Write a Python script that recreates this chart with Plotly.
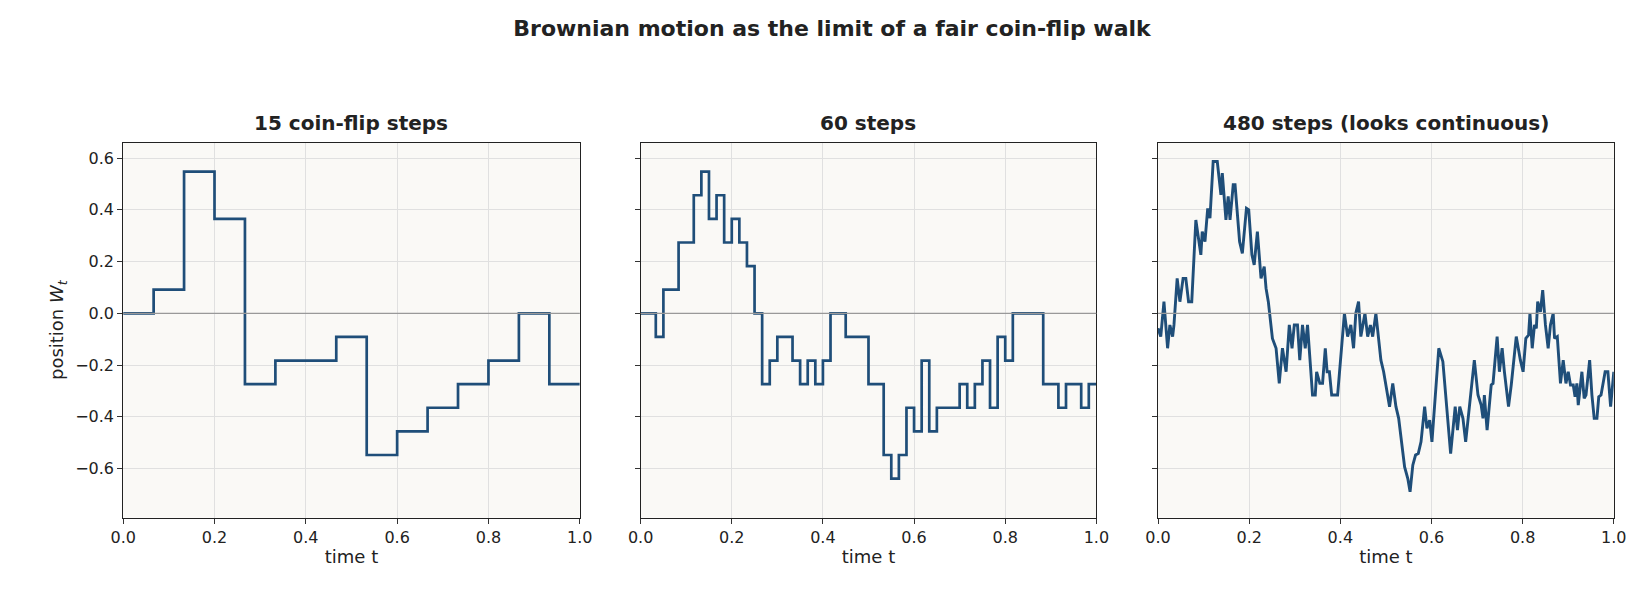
import numpy as np
import plotly.graph_objects as go
from plotly.subplots import make_subplots

# coin-flip walk in units of 2/sqrt(480)
unit = 2 / np.sqrt(480)
w15 = [0, 1, 6, 4, -3, -2, -2, -1, -6, -5, -4, -3, -2, 0, -3, -3]
w60 = [0, 0, -1, 1, 1, 3, 3, 5, 6, 4, 5, 3, 4, 3, 2, 0, -3, -2, -1, -1,
       -2, -3, -2, -3, -2, 0, 0, -1, -1, -1, -3, -3, -6, -7, -6, -4, -5, -2, -5, -4,
       -4, -4, -3, -4, -3, -2, -4, -1, -2, 0, 0, 0, 0, -3, -3, -4, -3, -3, -4, -3, -3]

# 480-step path, turning points
t480 = [0, .006, .013, .021, .026, .032, .035, .042, .048, .055, .061, .067, .074, .083, .094,
        .097, .103, .109, .114, .121, .130, .138, .141, .149, .154, .158, .165, .169, .179, .185,
        .194, .199, .206, .211, .218, .226, .233, .237, .242, .251, .259, .266, .273, .281, .288,
        .294, .299, .306, .311, .317, .323, .328, .339, .345, .348, .355, .361, .367, .371, .376,
        .381, .394, .409, .416, .423, .429, .434, .440, .445, .454, .460, .466, .471, .478, .489,
        .495, .508, .515, .522, .528, .541, .548, .553, .559, .565, .571, .577, .585, .590, .596,
        .601, .616, .625, .642, .652, .657, .662, .669, .675, .680, .694, .702, .709, .713, .716,
        .722, .731, .735, .744, .749, .755, .760, .769, .775, .786, .795, .801, .807, .813, .816,
        .821, .826, .830, .833, .839, .844, .850, .856, .861, .867, .870, .876, .883, .889, .895,
        .900, .905, .911, .915, .919, .922, .930, .935, .939, .947, .952, .957, .963, .967, .972,
        .976, .981, .987, .993, 1.0]
w480 = [-.058, -.090, .045, -.135, -.045, -.090, -.045, .135, .045, .135, .135, .045, .045, .361, .226,
        .316, .277, .406, .368, .587, .587, .458, .542, .361, .452, .361, .497, .497, .277, .232,
        .406, .400, .226, .187, .316, .135, .181, .097, .045, -.097, -.135, -.271, -.135, -.226, -.045,
        -.135, -.045, -.045, -.181, -.045, -.135, -.045, -.316, -.316, -.226, -.271, -.271, -.135, -.226, -.226,
        -.316, -.316, 0, -.090, -.045, -.135, 0, .045, -.090, 0, -.090, -.045, -.090, 0, -.181,
        -.226, -.361, -.271, -.361, -.406, -.594, -.639, -.690, -.587, -.548, -.542, -.497, -.361, -.445, -.413,
        -.497, -.135, -.187, -.542, -.361, -.452, -.361, -.406, -.497, -.406, -.181, -.316, -.355, -.406, -.316,
        -.452, -.277, -.271, -.090, -.226, -.135, -.226, -.361, -.277, -.090, -.181, -.226, -.097, -.084, 0,
        -.135, -.045, -.058, .045, .006, .090, -.045, -.135, -.045, 0, -.097, -.090, -.271, -.181, -.271,
        -.226, -.277, -.277, -.323, -.271, -.355, -.226, -.329, -.316, -.181, -.316, -.406, -.406, -.323, -.316,
        -.277, -.226, -.226, -.361, -.226]

titles = ["15 coin-flip steps", "60 steps", "480 steps (looks continuous)"]
blue = "#1f4e79"

fig = make_subplots(rows=1, cols=3, shared_yaxes=True, subplot_titles=titles)

t15 = np.arange(len(w15)) / 15
t60 = np.arange(len(w60)) / 60
fig.add_trace(go.Scatter(x=t15, y=np.array(w15) * unit, mode="lines", line_shape="hv",
                         line=dict(color=blue, width=2.7)), row=1, col=1)
fig.add_trace(go.Scatter(x=t60, y=np.array(w60) * unit, mode="lines", line_shape="hv",
                         line=dict(color=blue, width=2.7)), row=1, col=2)
fig.add_trace(go.Scatter(x=t480, y=w480, mode="lines",
                         line=dict(color=blue, width=2.9)), row=1, col=3)

domains = [[0.063, 0.3445], [0.382, 0.663], [0.701, 0.982]]
ydom = [0.152, 0.776]
for i in range(3):
    fig.add_hline(y=0, line=dict(color="#999999", width=1.3), row=1, col=i + 1)
    fig.update_xaxes(domain=domains[i], row=1, col=i + 1)
    a = fig.layout.annotations[i]
    a.x = (domains[i][0] + domains[i][1]) / 2
    a.y = ydom[1] + 0.01
    a.yanchor = "bottom"
    a.text = "<b>" + a.text + "</b>"

fig.update_xaxes(range=[0, 1], dtick=0.2, tickformat=".1f", showgrid=True, gridcolor="#e0e0e0",
                 zeroline=False, showline=True, linecolor="#222", mirror=True, ticks="outside",
                 ticklen=5, tickcolor="#333", title_text="time t", title_standoff=4,
                 title_font=dict(size=18))
fig.update_yaxes(range=[-0.79, 0.66], dtick=0.2, tickformat=".1f", showgrid=True, gridcolor="#e0e0e0",
                 zeroline=False, showline=True, linecolor="#222", mirror=True, ticks="outside",
                 ticklen=5, tickcolor="#333", domain=ydom)
fig.update_yaxes(title_text="position <i>W<sub>t</sub></i>", title_font=dict(size=18),
                 title_standoff=6, row=1, col=1)

fig.update_annotations(font=dict(size=20, color="#222", family="DejaVu Sans"))

fig.update_layout(
    width=1648, height=601,
    margin=dict(l=0, r=0, t=0, b=0),
    paper_bgcolor="white", plot_bgcolor="#faf9f6",
    showlegend=False,
    font=dict(family="DejaVu Sans", size=16, color="#222"),
    title=dict(text="<b>Brownian motion as the limit of a fair coin-flip walk</b>",
               x=0.5, xanchor="center", y=0.967, yanchor="middle",
               font=dict(size=22, color="#222")),
)

fig.write_html("out.html")
